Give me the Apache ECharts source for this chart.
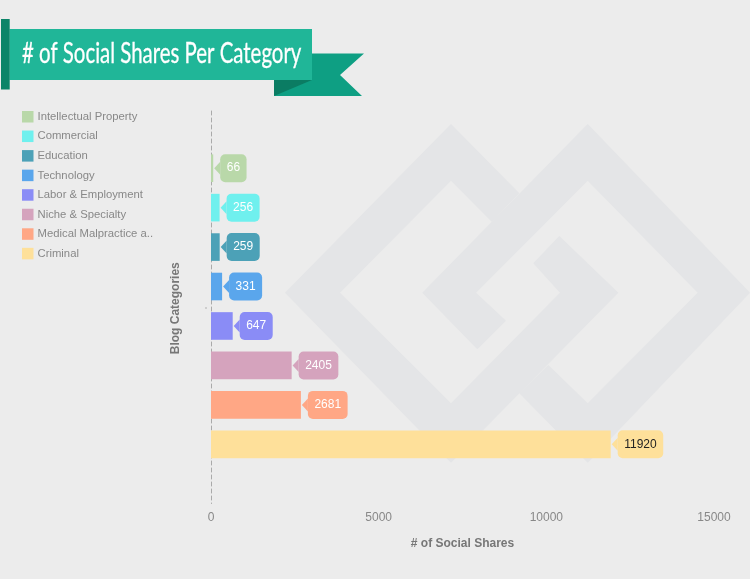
<!DOCTYPE html>
<html>
<head>
<meta charset="utf-8">
<script src="https://cdn.jsdelivr.net/npm/echarts@6/dist/echarts.min.js"></script>
<style>
html, body { margin: 0; padding: 0; background: #ececec; }
#chart1 { width: 750px; height: 579px; }
</style>
</head>
<body>
<div id="chart1"></div>
<script>
var categories = ['Intellectual Property', 'Commercial', 'Education', 'Technology', 'Labor & Employment', 'Niche & Specialty', 'Medical Malpractice a..', 'Criminal'];
var shares = [66, 256, 259, 331, 647, 2405, 2681, 11920];
var colors = ['#b9d8a9', '#6ff0ee', '#4ca1b7', '#5aa6ec', '#8a8cf6', '#d5a3bd', '#ffa785', '#fee09a'];
var labelColors = ['#fff', '#fff', '#fff', '#fff', '#fff', '#fff', '#fff', '#222'];
var xTicks = { min: 0, max: 15000, interval: 5000 };

// blank slots above and below the bars
var slots = [''].concat(categories, ['  ']);

var myChart = echarts.init(document.getElementById('chart1'));

var series = categories.map(function (name, i) {
  var values = slots.map(function (s) { return s === name ? shares[i] : null; });
  return {
    name: name,
    type: 'bar',
    stack: 'shares',
    barWidth: '70%',
    itemStyle: { color: colors[i] },
    data: values,
    label: {
      show: true,
      position: 'right',
      distance: 7,
      formatter: '{c}',
      color: labelColors[i],
      fontSize: 12,
      fontFamily: 'Liberation Sans',
      lineHeight: 12,
      backgroundColor: colors[i],
      borderRadius: 5,
      padding: [8, 6.5, 8, 6.5]
    },
    // little arrow that joins the label to the bar
    markPoint: {
      silent: true,
      symbol: 'triangle',
      symbolSize: [13, 6],
      symbolRotate: 90,
      symbolOffset: [4, 0],
      label: { show: false },
      itemStyle: { color: colors[i] },
      data: [{ coord: [shares[i], name] }]
    }
  };
});

var bg = '#e4e5e7';
var option = {
  backgroundColor: '#ececec',
  animation: false,
  graphic: [
    { type: 'polygon', z: -1, silent: true, style: { fill: bg }, shape: { points: [[559.3, 236], [618.3, 292.7], [451, 462.7], [285, 292.7], [451, 124], [519.3, 193.3], [491.7, 221.7], [451, 180.7], [340, 292.7], [451, 403.3], [560, 292.7], [533.3, 263.3]] } },
    { type: 'polygon', z: -1, silent: true, style: { fill: bg }, shape: { points: [[506, 320.7], [477.3, 349.3], [422.3, 292.7], [587.7, 124], [750, 292.7], [587.7, 462.7], [519.3, 393.3], [548.3, 365], [587.7, 403.3], [697.7, 292.7], [587.7, 180.7], [476, 292.7]] } },
    // title ribbon
    { type: 'polygon', z: 5, silent: true, style: { fill: '#0e9f83' }, shape: { points: [[312, 53.5], [364, 53.5], [340, 75], [362, 96], [274, 96], [274, 80], [312, 80]] } },
    { type: 'polygon', z: 6, silent: true, style: { fill: '#0b7c63' }, shape: { points: [[274, 80], [312, 80], [274, 96]] } },
    { type: 'rect', z: 6, silent: true, style: { fill: '#20b698' }, shape: { x: 9.5, y: 29, width: 302.5, height: 51 } },
    { type: 'rect', z: 6, silent: true, style: { fill: '#0c8468' }, shape: { x: 1, y: 19, width: 8.7, height: 70.5 } },
    {
      type: 'text', z: 7, silent: true, x: 22, y: 54, scaleX: 0.704,
      style: {
        text: '# of Social Shares Per Category',
        fill: '#fff',
        stroke: '#fff',
        lineWidth: 0.3,
        font: '29px Lato',
        verticalAlign: 'middle'
      }
    },
    // stray speck left of the axis
    { type: 'circle', silent: true, style: { fill: '#999' }, shape: { cx: 206, cy: 308, r: 0.7 } }
  ],
  legend: {
    orient: 'vertical',
    left: 22,
    top: 111,
    padding: 0,
    icon: 'rect',
    itemWidth: 11.5,
    itemHeight: 11.5,
    itemGap: 8.05,
    itemStyle: { borderWidth: 0 },
    textStyle: { color: '#888', fontSize: 11.3, fontFamily: 'Liberation Sans', padding: [0, 0, 0, -1] },
    data: categories
  },
  grid: { left: 211, right: 36, top: 109, height: 394.5 },
  xAxis: {
    type: 'value',
    min: xTicks.min,
    max: xTicks.max,
    interval: xTicks.interval,
    name: '# of Social Shares',
    nameLocation: 'middle',
    nameGap: 34,
    nameTextStyle: { color: '#777', fontSize: 12, fontWeight: 'bold', fontFamily: 'Liberation Sans' },
    axisLine: { show: false },
    axisTick: { show: false },
    splitLine: { show: false },
    axisLabel: {
      color: '#888',
      fontSize: 12,
      fontFamily: 'Liberation Sans',
      margin: 8,
      formatter: function (v) { return String(v); }
    }
  },
  yAxis: {
    type: 'category',
    inverse: true,
    data: slots,
    name: 'Blog Categories',
    nameLocation: 'middle',
    nameGap: 29,
    nameTextStyle: { color: '#777', fontSize: 12, fontWeight: 'bold', fontFamily: 'Liberation Sans', padding: [0, 4, 0, 0] },
    axisLine: { show: true, lineStyle: { color: '#aaa', type: [4, 3], dashOffset: 5, width: 1 } },
    axisTick: { show: false },
    axisLabel: { show: false },
    splitLine: { show: false }
  },
  series: series
};
myChart.setOption(option);
</script>
</body>
</html>
